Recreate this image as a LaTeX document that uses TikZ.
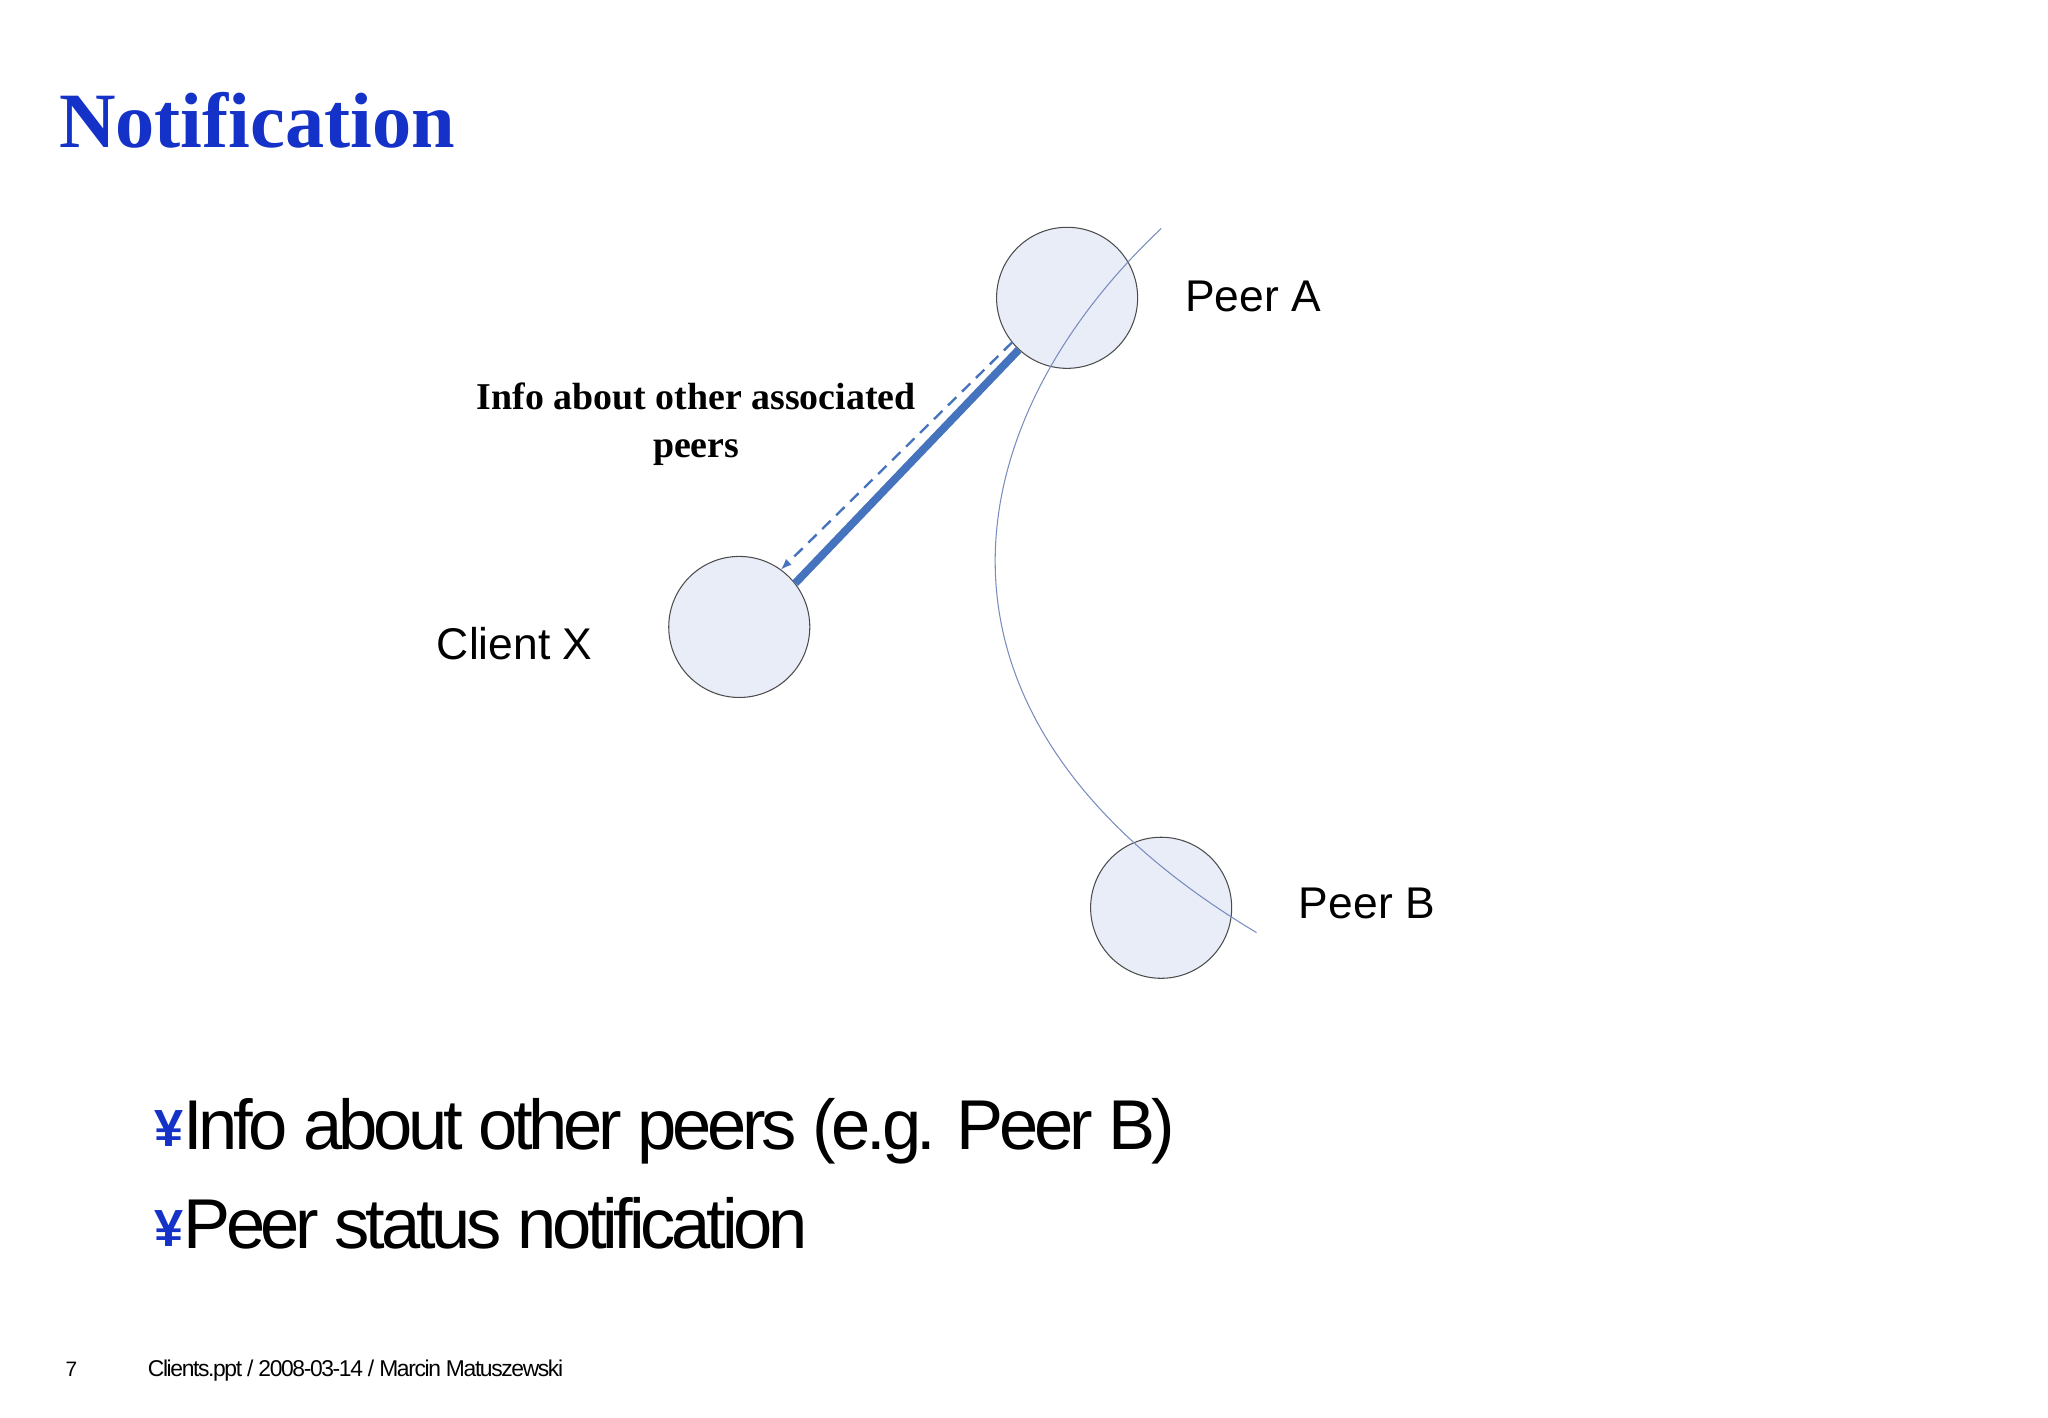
\documentclass[tikz,border=0pt]{standalone}
\usepackage{fontspec}
\setmainfont{Liberation Serif}
\setsansfont{Liberation Sans}
\newfontfamily\tightsans[LetterSpace=-6]{Liberation Sans}
\definecolor{titleblue}{RGB}{20,50,200}
\definecolor{circfill}{RGB}{233,237,248}
\definecolor{linkblue}{RGB}{70,115,190}
\definecolor{curveblue}{RGB}{120,140,190}
\begin{document}
\begin{tikzpicture}[x=1pt,y=-1pt,
  peer/.style={circle,draw=black!70,fill=circfill,minimum size=108pt,inner sep=0pt,line width=0.8pt},
  lbl/.style={font=\sffamily\fontsize{34}{40}\selectfont,anchor=west},
  bullet/.style={font=\tightsans\fontsize{54}{60}\selectfont,anchor=base west}]
\useasboundingbox (0,0) rectangle (1568,1085);
\fill[white] (0,0) rectangle (1568,1085);
\node[anchor=base west,text=titleblue,font=\bfseries\fontsize{60}{66}\selectfont,inner sep=0] (title) at (45,113) {Notification};
\node[peer] (A) at (817,228) {};
\node[peer] (X) at (566,480) {};
\node[peer] (B) at (889,695) {};
\coordinate (c0) at (889,175);
\coordinate (c1) at (962,714);
\coordinate (d0) at (775,262);
\coordinate (d1) at (598,436);
\draw[curveblue,line width=0.8pt] (c0) .. controls (735,320) and (680,545) .. (c1);
\draw[linkblue,line width=6pt] (A.227) -- (X.38);
\draw[linkblue,line width=1.8pt,dash pattern=on 9pt off 6pt,-latex] (d0) -- (d1);
\node[lbl] (la) at (904,227) {Peer A};
\node[lbl] (lx) at (331,493) {Client X};
\node[lbl] (lb) at (991,692) {Peer B};
\node[align=center,font=\bfseries\fontsize{29}{37}\selectfont] (info) at (533,325) {Info about other associated\\peers};
\node[anchor=base west,text=titleblue,font=\sffamily\bfseries\fontsize{40}{48}\selectfont,inner sep=0] (y1) at (118,878) {¥};
\node[bullet,inner sep=0] (b1) at (140,880) {Info about other peers (e.g. Peer B)};
\node[anchor=base west,text=titleblue,font=\sffamily\bfseries\fontsize{40}{48}\selectfont,inner sep=0] (y2) at (118,954) {¥};
\node[bullet,inner sep=0] (b2) at (140,956) {Peer status notification};
\node[anchor=base west,font=\sffamily\fontsize{16}{18}\selectfont,inner sep=0] (pg) at (50,1054) {7};
\node[anchor=base west,font=\tightsans\fontsize{17.5}{20}\selectfont,inner sep=0] (ft) at (113,1054) {Clients.ppt / 2008-03-14 / Marcin Matuszewski};
\end{tikzpicture}
\end{document}
